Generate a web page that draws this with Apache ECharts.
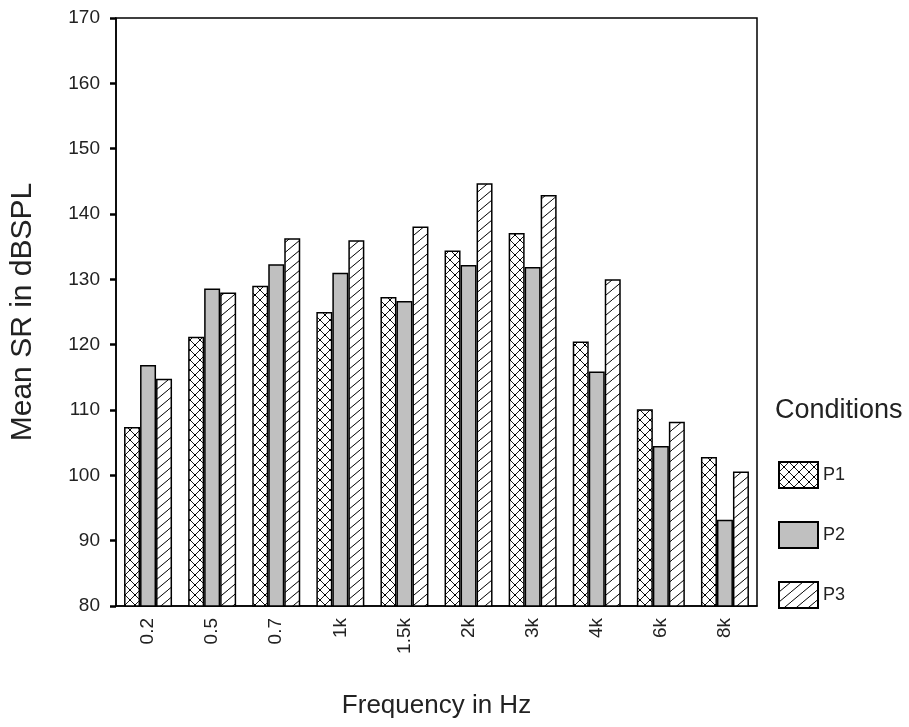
<!DOCTYPE html>
<html>
<head>
    <meta charset="utf-8">
    <script src="https://cdn.jsdelivr.net/npm/echarts@6/dist/echarts.min.js"></script>
    <title>Mean SR</title>
    <style>
        body { margin: 0; background: #fff; }
    </style>
</head>
<body>
    <div id="main" style="width: 909px;height:727px;"></div>
    <script type="text/javascript">
    var freqs = ['0.2', '0.5', '0.7', '1k', '1.5k', '2k', '3k', '4k', '6k', '8k'];
    var p1 = [107.4, 121.2, 129.0, 125.0, 127.3, 134.4, 137.1, 120.5, 110.1, 102.8];
    var p2 = [116.9, 128.6, 132.3, 131.0, 126.7, 132.2, 131.9, 115.9, 104.5, 93.2];
    var p3 = [114.8, 128.0, 136.3, 136.0, 138.1, 144.7, 142.9, 130.0, 108.2, 100.6];

    var fontFam = 'Liberation Sans, Arial, sans-serif';

    // hatch tiles
    function crossTile() {
        var c = document.createElement('canvas');
        c.width = 10; c.height = 10;
        var g = c.getContext('2d');
        g.fillStyle = '#fff';
        g.fillRect(0, 0, 10, 10);
        g.strokeStyle = '#000';
        g.lineWidth = 0.9;
        g.beginPath();
        g.moveTo(0, 0); g.lineTo(10, 10);
        g.moveTo(10, 0); g.lineTo(0, 10);
        g.stroke();
        g.fillStyle = '#000';
        g.fillRect(4, 4, 2, 2);
        g.fillRect(0, 0, 1, 1);
        g.fillRect(9, 0, 1, 1);
        g.fillRect(0, 9, 1, 1);
        g.fillRect(9, 9, 1, 1);
        return c;
    }
    function slashTile() {
        var c = document.createElement('canvas');
        c.width = 12; c.height = 10;
        var g = c.getContext('2d');
        g.fillStyle = '#fff';
        g.fillRect(0, 0, 12, 10);
        g.strokeStyle = '#000';
        g.lineWidth = 1;
        g.beginPath();
        g.moveTo(-1.2, 11); g.lineTo(13.2, -1);
        g.stroke();
        return c;
    }

    var myChart = echarts.init(document.getElementById('main'));

    var barStyle = function (fill) {
        return { color: fill, borderColor: '#000', borderWidth: 1.5 };
    };

    var option = {
        backgroundColor: '#fff',
        animation: false,
        title: {
            text: 'Conditions',
            left: 770,
            top: 392,
            textStyle: { fontFamily: fontFam, fontSize: 27, fontWeight: 'normal', color: '#222' }
        },
        legend: {
            orient: 'vertical',
            left: 773,
            top: 456,
            itemWidth: 39,
            itemHeight: 26,
            itemGap: 32,
            icon: 'rect',
            textStyle: { fontFamily: fontFam, fontSize: 18, color: '#222' },
            data: ['P1', 'P2', 'P3']
        },
        grid: {
            left: 114, right: 152, top: 18, bottom: 121,
            show: true, borderColor: '#000', borderWidth: 1.5
        },
        xAxis: {
            type: 'category',
            data: freqs,
            name: 'Frequency in Hz',
            nameLocation: 'middle',
            nameGap: 87,
            nameTextStyle: { fontFamily: fontFam, fontSize: 26, color: '#222' },
            axisLine: { lineStyle: { color: '#000', width: 1.5 } },
            axisTick: { alignWithLabel: true, length: 6, lineStyle: { color: '#000', width: 2.5 } },
            axisLabel: { rotate: 90, margin: 12, fontFamily: fontFam, fontSize: 19, color: '#222' }
        },
        yAxis: {
            type: 'value',
            min: 80,
            max: 170,
            interval: 10,
            name: 'Mean SR in dBSPL',
            nameLocation: 'middle',
            nameGap: 78,
            nameTextStyle: { fontFamily: fontFam, fontSize: 30, color: '#222' },
            splitLine: { show: false },
            axisLine: { show: true, lineStyle: { color: '#000', width: 1.5 } },
            axisTick: { show: true, length: 6, lineStyle: { color: '#000', width: 2.5 } },
            axisLabel: { margin: 16, fontFamily: fontFam, fontSize: 19, color: '#222' }
        },
        series: [
            { name: 'P1', type: 'bar', data: p1, barWidth: 16, barGap: '0%',
              itemStyle: barStyle({ image: crossTile(), repeat: 'repeat' }) },
            { name: 'P2', type: 'bar', data: p2, barWidth: 16, barGap: '0%',
              itemStyle: barStyle('#c0c0c0') },
            { name: 'P3', type: 'bar', data: p3, barWidth: 16, barGap: '0%',
              itemStyle: barStyle({ image: slashTile(), repeat: 'repeat' }) }
        ]
    };
    myChart.setOption(option);
    </script>
</body>
</html>
